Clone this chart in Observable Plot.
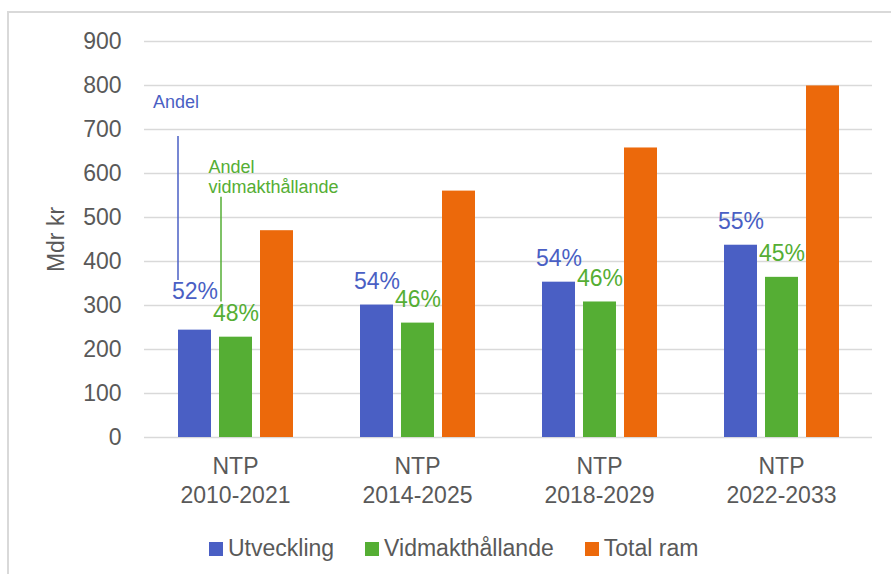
<!DOCTYPE html>
<html>
<head>
<meta charset="utf-8">
<script src="https://cdn.jsdelivr.net/npm/d3@7"></script>
<script src="https://cdn.jsdelivr.net/npm/@observablehq/plot@0.6"></script>
<style>
  body { margin: 0; background: #fff; font-family: "Liberation Sans", Arial, sans-serif; }
  #frame { position: absolute; left: 7px; top: 11px; width: 900px; height: 600px;
           border-left: 2px solid #d9d9d9; border-top: 2px solid #d9d9d9; }
  #chart { position: absolute; left: 0; top: 0; }
  #legend { position: absolute; left: 209px; top: 532px; }
  #legend [class*="-swatch"] > svg { margin-right: 5px !important; }
  #legend span[class*="-swatch"] { margin-right: 31px !important; }
  #chart g[aria-label="y-axis label"], #chart g[aria-label="y-axis label"] text { font-size: 23px; }
</style>
</head>
<body>
<div id="frame"></div>
<div id="chart"></div>
<div id="legend"></div>
<script>
// ---- data ----
const groups = ["2010-2021", "2014-2025", "2018-2029", "2022-2033"];
const seriesNames = ["Utveckling", "Vidmakthållande", "Total ram"];
const utveckling = [244, 301, 353, 437];
const vidmakthallande = [228, 260, 308, 364];
const totalRam = [470, 560, 658, 799];
const andelUtveckling = ["52%", "54%", "54%", "55%"];
const andelVidmakt = ["48%", "46%", "46%", "45%"];
const yTicks = [0, 100, 200, 300, 400, 500, 600, 700, 800, 900];
const colors = ["#4a5fc4", "#55ae34", "#ec690b"];

// annotations (first group)
const annotText = ["Andel", "Andel\nvidmakthållande"];
const annotSeries = ["Utveckling", "Vidmakthållande"];
const annotTextY = [779, 634];
const annotLineTop = [684, 546];
const annotLineBottom = [357, 308];

// ---- tables ----
const seriesValues = [utveckling, vidmakthallande, totalRam];
const rows = groups.flatMap((g, i) =>
  seriesNames.map((s, j) => ({group: g, series: s, value: seriesValues[j][i]})));
const labelRows = groups.flatMap((g, i) => [
  {group: g, series: "Utveckling", value: utveckling[i], label: andelUtveckling[i]},
  {group: g, series: "Vidmakthållande", value: vidmakthallande[i], label: andelVidmakt[i]}
]);
const annots = annotText.map((t, i) => ({
  group: groups[0], series: annotSeries[i], text: t,
  ty: annotTextY[i], y1: annotLineTop[i], y2: annotLineBottom[i]
}));

const font = "'Liberation Sans', Arial, sans-serif";

const chart = Plot.plot({
  width: 891,
  height: 510,
  marginLeft: 142,
  marginRight: 18,
  marginTop: 41,
  marginBottom: 73,
  style: {fontFamily: font, fontSize: "23px", color: "#595959", background: "transparent", overflow: "visible"},
  fx: {domain: groups, padding: 0, label: null, axis: null},
  x: {domain: seriesNames, paddingInner: 0.2, paddingOuter: 0.8, axis: null},
  y: {domain: [0, 900], axis: null},
  color: {domain: seriesNames, range: colors},
  marks: [
    Plot.gridY(yTicks, {stroke: "#d9d9d9", strokeOpacity: 1, strokeWidth: 1.3}),
    Plot.axisY(yTicks, {tickSize: 0, tickPadding: 23, fontSize: 23, label: "Mdr kr",
                        labelAnchor: "center", labelOffset: 97, labelArrow: "none"}),
    Plot.axisFx({anchor: "bottom", tickSize: 0, tickPadding: 16, fontSize: 23, lineHeight: 1.27,
                 tickFormat: d => "NTP\n" + d, label: null}),
    Plot.barY(rows, {fx: "group", x: "series", y: "value", fill: "series"}),
    Plot.text(labelRows.filter((d, i) => i !== 0), {
      fx: "group", x: "series", y: "value", text: "label", fill: "series",
      lineAnchor: "bottom", dy: -16, fontSize: 23
    }),
    Plot.text(labelRows.filter((d, i) => i === 0), {
      fx: "group", x: "series", y: "value", text: "label", fill: "series",
      lineAnchor: "bottom", dy: -31, fontSize: 23
    }),
    Plot.ruleX(annots.filter(d => d.series === "Utveckling"), {
      fx: "group", x: "series", y1: "y1", y2: "y2", stroke: "series", strokeWidth: 1.5, dx: -17
    }),
    Plot.ruleX(annots.filter(d => d.series === "Vidmakthållande"), {
      fx: "group", x: "series", y1: "y1", y2: "y2", stroke: "series", strokeWidth: 1.5, dx: -15
    }),
    Plot.text(annots.filter(d => d.series === "Utveckling"), {
      fx: "group", x: "series", y: "ty", text: "text", fill: "series",
      textAnchor: "start", lineAnchor: "top", dx: -42, fontSize: 18
    }),
    Plot.text(annots.filter(d => d.series === "Vidmakthållande"), {
      fx: "group", x: "series", y: "ty", text: "text", fill: "series",
      textAnchor: "start", lineAnchor: "top", lineHeight: 1.12, dx: -27.5, fontSize: 18
    })
  ]
});
document.getElementById("chart").appendChild(chart);

const legend = Plot.legend({
  color: {domain: seriesNames, range: colors},
  legend: "swatches",
  swatchSize: 14,
  style: {fontFamily: font, fontSize: "23px", color: "#595959", margin: 0}
});
document.getElementById("legend").appendChild(legend);
</script>
</body>
</html>
